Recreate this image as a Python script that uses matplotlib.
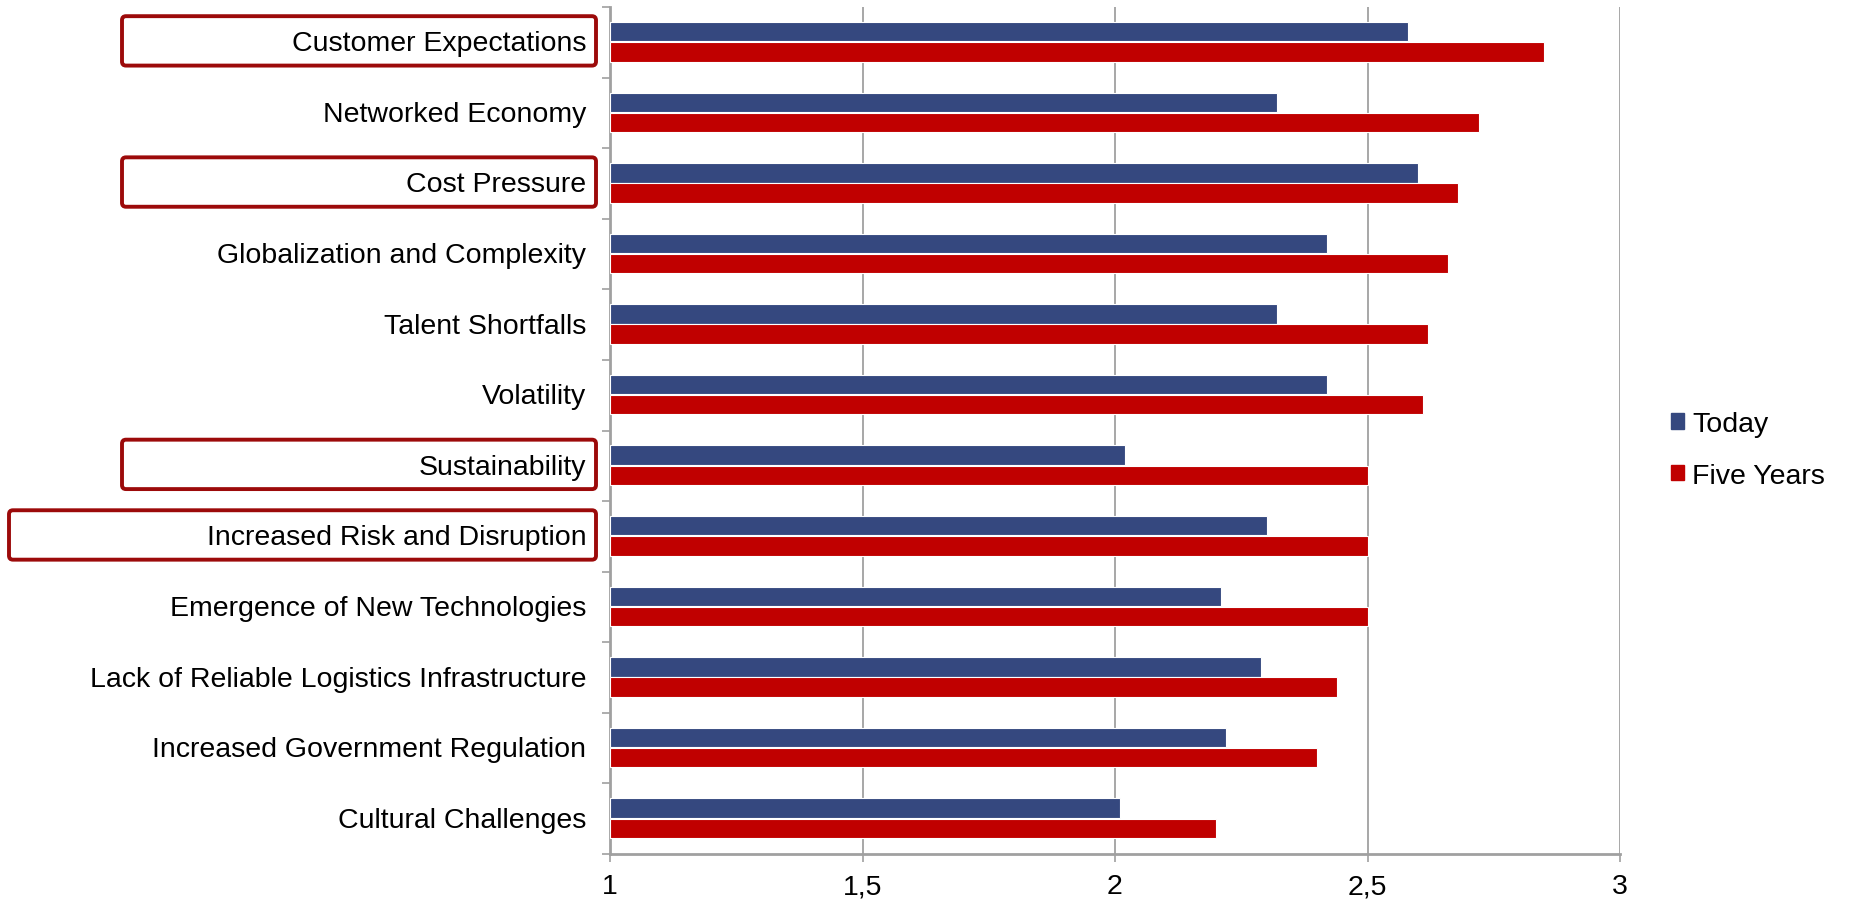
'''
drivers of change: today vs. five years out (horizontal grouped bars)
'''

import numpy as np
import matplotlib
matplotlib.use('Agg')
import matplotlib.pyplot as plt
from matplotlib.patches import FancyBboxPatch, Patch
from matplotlib.transforms import IdentityTransform, ScaledTranslation

plt.rcParams.update({
    'font.family': ['Liberation Sans', 'DejaVu Sans'],
    'font.size': 20.5,
})

categories = [
    "Customer Expectations",
    "Networked Economy",
    "Cost Pressure",
    "Globalization and Complexity",
    "Talent Shortfalls",
    "Volatility",
    "Sustainability",
    "Increased Risk and Disruption",
    "Emergence of New Technologies",
    "Lack of Reliable Logistics Infrastructure",
    "Increased Government Regulation",
    "Cultural Challenges",
]
today = [2.58, 2.32, 2.60, 2.42, 2.32, 2.42, 2.02, 2.30, 2.21, 2.29, 2.22, 2.01]
five_years = [2.85, 2.72, 2.68, 2.66, 2.62, 2.61, 2.50, 2.50, 2.50, 2.44, 2.40, 2.20]
# labels framed in red, and whether the frame reaches further left
highlighted = {
    "Customer Expectations": False,
    "Cost Pressure": False,
    "Sustainability": False,
    "Increased Risk and Disruption": True,
}
x_ticks = [1, 1.5, 2, 2.5, 3]
x_tick_labels = ["1", "1,5", "2", "2,5", "3"]

blue = '#35487f'
red = '#c00000'
grid_c = '#a0a0a0'

W, H = 1852, 903
fig = plt.figure(figsize=(W / 100, H / 100), dpi=100)
ax = fig.add_axes([610 / W, 1 - 855 / H, 1010 / W, (855 - 8) / H])

y = np.arange(len(categories))
bh = 0.275
ax.barh(y - 0.15, [v - 1 for v in today], left=1, height=bh,
        color=blue, edgecolor='white', linewidth=0.8, zorder=3, label='Today')
ax.barh(y + 0.135, [v - 1 for v in five_years], left=1, height=bh,
        color=red, edgecolor='white', linewidth=0.8, zorder=3, label='Five Years')

ax.set_xlim(1, 3)
ax.set_ylim(len(categories) - 0.5, -0.5)

ax.set_xticks(x_ticks, x_tick_labels)
ax.set_yticks(y, categories)
ax.set_yticks(np.arange(len(categories) + 1) - 0.5, minor=True)
ax.tick_params(axis='y', which='major', length=0, pad=17)
ax.tick_params(axis='y', which='minor', length=6, width=1.2, color=grid_c)
ax.tick_params(axis='x', length=6, width=1.2, color=grid_c, pad=8)

# nudge category labels up a touch
lift = ScaledTranslation(0, 2 / 100, fig.dpi_scale_trans)
for lbl in ax.get_yticklabels():
    lbl.set_transform(lbl.get_transform() + lift)

ax.grid(axis='x', color=grid_c, linewidth=1.3, zorder=0)
for s in ['top', 'right']:
    ax.spines[s].set_visible(False)
for s in ['left', 'bottom']:
    ax.spines[s].set_color(grid_c)
    ax.spines[s].set_linewidth(2)

# red frames around the key drivers (pixel coordinates)
for name, wide in highlighted.items():
    i = categories.index(name)
    _, y_top = ax.transData.transform((1, i - 0.37))
    _, y_bot = ax.transData.transform((1, i + 0.33))
    x0 = 9 if wide else 122
    x1 = 596
    box = FancyBboxPatch((x0, y_bot), x1 - x0, y_top - y_bot,
                         boxstyle='round,pad=0,rounding_size=4',
                         transform=IdentityTransform(),
                         facecolor='none', edgecolor='#9c0a0a', linewidth=2.8)
    fig.add_artist(box)

handles = [Patch(color=blue, label='Today'), Patch(color=red, label='Five Years')]
fig.legend(handles=handles, loc='center left', bbox_to_anchor=(1671 / W, 1 - 451 / H),
           frameon=False, handlelength=0.45, handleheight=0.45, handletextpad=0.3,
           labelspacing=0.9, borderpad=0, borderaxespad=0)

fig.savefig('out.png', dpi=100)
